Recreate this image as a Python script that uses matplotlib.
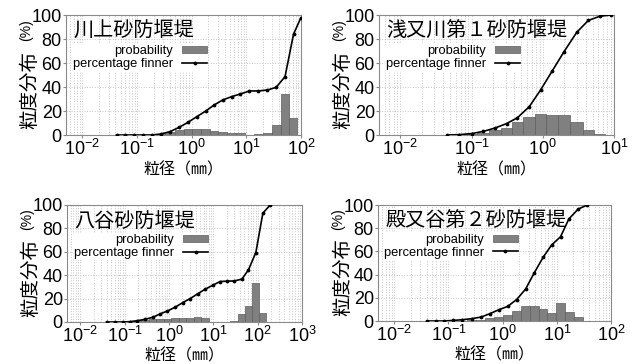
import numpy as np
import matplotlib
matplotlib.use("Agg")
import matplotlib.pyplot as plt
from matplotlib.ticker import LogLocator, NullFormatter

plt.rcParams['font.family'] = ['Liberation Sans', 'Noto Sans CJK JP']
plt.rcParams['mathtext.fontset'] = 'custom'
plt.rcParams['mathtext.rm'] = 'Liberation Sans'
plt.rcParams['mathtext.it'] = 'Liberation Sans:italic'
plt.rcParams['mathtext.bf'] = 'Liberation Sans:bold'
CJK = ['Noto Sans CJK JP', 'Liberation Sans']

# 川上砂防堰堤
kawakami_size = [0.042, 0.06, 0.088, 0.127, 0.185, 0.27, 0.40, 0.59, 0.85, 1.24, 1.81,
                 2.57, 3.7, 5.4, 7.8, 11.4, 16.6, 24.3, 35, 51, 73, 99]
kawakami_finer = [0, 0, 0, 0, 0, 0.8, 2.8, 6.4, 10.5, 15.3, 20, 25, 29.2, 32, 34.2,
                  36.7, 36.7, 37.5, 39.7, 48.6, 84, 97.5]
kawakami_prob = [0, 0, 0, 0, 0, 0.5, 2.8, 4.2, 5, 5, 4.7, 3.6, 2.2, 1.8, 1.7,
                 0, 0.6, 2, 8.3, 34.5, 14.5, 0]

# 浅又川第1砂防堰堤
asamata_size = [0.0455, 0.067, 0.10, 0.146, 0.213, 0.31, 0.44, 0.645, 0.93, 1.36,
                1.98, 2.99, 4.36, 6.36, 9.0]
asamata_finer = [0, 0.3, 1.2, 3, 5.8, 9.5, 14.4, 23.6, 37.5, 53.5, 69.3, 85.5, 95.5, 99, 100]
asamata_prob = [0, 0.5, 1, 1.8, 4.5, 5.5, 10.5, 15, 17.5, 16.8, 16.3, 11.2, 4.2, 1.2, 0]

# 八谷砂防堰堤
hachiya_size = [0.039, 0.061, 0.09, 0.132, 0.193, 0.288, 0.43, 0.63, 0.92, 1.37, 2.05,
                3.0, 4.4, 6.5, 9.7, 14.2, 20, 29.4, 44, 62, 91, 131, 191]
hachiya_finer = [0, 0, 0, 0.3, 1.1, 2.3, 4, 6.9, 9.4, 12.6, 16.6, 20, 24, 28, 31.4,
                 34.6, 34.9, 35.1, 36.6, 44.6, 59.4, 93, 100]
hachiya_prob = [0, 0, 0, 0, 0.8, 1.7, 2.3, 2.6, 2.9, 3.5, 3.7, 3.8, 4.3, 3, 0, 0,
                0.3, 1.2, 6.9, 13.7, 33.7, 7.4, 0]

# 殿又谷第2砂防堰堤
tonomata_size = [0.0396, 0.058, 0.083, 0.123, 0.18, 0.268, 0.40, 0.58, 0.85, 1.24,
                 1.81, 2.65, 3.83, 5.6, 8.0, 11.7, 16.7, 24.8, 36.4]
tonomata_finer = [0, 0, 0, 0.5, 1.1, 2, 3.4, 6.3, 9.7, 12.6, 18.5, 27.5, 41.5, 55,
                  65.5, 72.6, 88, 96.5, 100]
tonomata_prob = [0, 0, 0, 0, 0, 0.5, 1, 2.8, 3.4, 5.5, 8.6, 12.8, 13.2, 10.3, 6.5,
                 15.3, 7.8, 3.8, 0]

titles = ['川上砂防堰堤', '浅又川第１砂防堰堤', '八谷砂防堰堤', '殿又谷第２砂防堰堤']
xmax = [100, 10, 1000, 100]
positions = [
    [66/632, 1-135/364, 235/632, 120/364],
    [379/632, 1-135/364, 235/632, 120/364],
    [67/632, 1-322/364, 235/632, 117/364],
    [378/632, 1-321/364, 233/632, 116/364],
]
data = [
    (kawakami_size, kawakami_finer, kawakami_prob),
    (asamata_size, asamata_finer, asamata_prob),
    (hachiya_size, hachiya_finer, hachiya_prob),
    (tonomata_size, tonomata_finer, tonomata_prob),
]

fig = plt.figure(figsize=(6.32, 3.64), dpi=100)

for k in range(4):
    size, finer, prob = [np.array(a, dtype=float) for a in data[k]]
    ax = fig.add_axes(positions[k])
    ax.set_xscale('log')

    # log-centred bar edges around each sieve size
    logs = np.log10(size)
    mid = (logs[1:] + logs[:-1]) / 2
    left = np.concatenate([[logs[0] - (mid[0] - logs[0])], mid])
    right = np.concatenate([mid, [logs[-1] + (logs[-1] - mid[-1])]])
    l, r = 10**left, 10**right
    bars = ax.bar(l, prob, width=r - l, align='edge', color='#808080',
                  edgecolor='#5e5e5e', linewidth=0.5, zorder=2)
    line, = ax.plot(size, finer, color='black', lw=1.2, marker='.', ms=3.5, zorder=3)

    ax.set_xlim(0.005, xmax[k])
    ax.set_ylim(0, 100)
    ax.set_yticks([0, 20, 40, 60, 80, 100])
    ax.xaxis.set_major_locator(LogLocator(base=10, numticks=12))
    ax.xaxis.set_minor_locator(LogLocator(base=10, subs=np.arange(2, 10), numticks=12))
    ax.xaxis.set_minor_formatter(NullFormatter())
    ax.grid(True, which='both', axis='x', color='#c8c8c8', ls=':', lw=0.7, zorder=0)
    ax.grid(True, which='major', axis='y', color='#c8c8c8', ls=':', lw=0.7, zorder=0)
    ax.set_axisbelow(True)
    for s in ax.spines.values():
        s.set_color('#8a8a8a')
    ax.tick_params(axis='both', which='major', labelsize=13, length=2, pad=1,
                   color='#8a8a8a', direction='out')
    ax.tick_params(axis='x', which='minor', length=0)

    # axis labels placed by hand
    ax.text(-0.152, 0.375, '粒度分布', transform=ax.transAxes, rotation=90,
            ha='center', va='center', family=CJK, fontsize=14)
    ax.text(-0.17, 0.875, '(%)', transform=ax.transAxes, rotation=90,
            ha='center', va='center', fontsize=10)
    ax.text(0.5, -0.29, '粒径（㎜）', transform=ax.transAxes, ha='center',
            va='center', family=CJK, fontsize=11.5)

    ax.text(0.03, 0.95, titles[k], transform=ax.transAxes, ha='left', va='top',
            family=CJK, fontsize=14.5, zorder=5)
    ax.legend([bars, line], ['probability', 'percentage finner'], loc='center right',
              bbox_to_anchor=(0.605, 0.645), markerfirst=False, frameon=True,
              facecolor='white', edgecolor='none', framealpha=1, fontsize=9.3,
              labelspacing=0.05, handlelength=1.9, handletextpad=0.7, borderpad=0.1,
              borderaxespad=0, handleheight=0.5)

fig.savefig('out.png', dpi=100)
